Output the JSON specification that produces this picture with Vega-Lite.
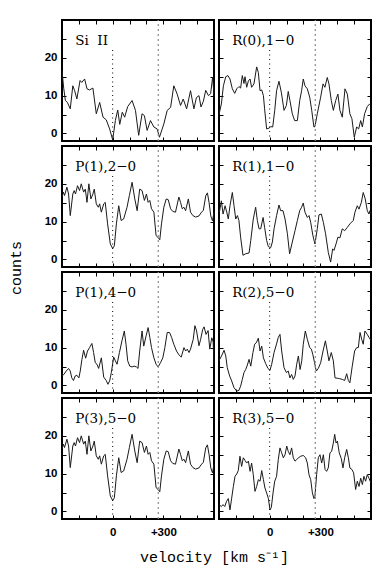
{
  "$schema": "https://vega.github.io/schema/vega-lite/v6.json",
  "padding": {"left": 7, "top": 18, "right": 5, "bottom": 5},
  "background": "white",
  "columns": 2,
  "spacing": 5,
  "bounds": "flush",
  "datasets": {
    "SiII": [{"v":-300,"c":16.6},{"v":-290,"c":12},{"v":-280,"c":8.7},{"v":-268,"c":8.2},{"v":-251,"c":6.5},{"v":-236,"c":12.6},{"v":-225,"c":11.3},{"v":-212,"c":9.1},{"v":-193,"c":14},{"v":-183,"c":13.5},{"v":-166,"c":14.4},{"v":-152,"c":11.8},{"v":-137,"c":11.5},{"v":-117,"c":12},{"v":-97,"c":5.2},{"v":-77,"c":8.2},{"v":-57,"c":4.3},{"v":-38,"c":3.6},{"v":-18,"c":1.2},{"v":0,"c":-1.7},{"v":16,"c":3.4},{"v":30,"c":6.2},{"v":42,"c":2.4},{"v":57,"c":5.6},{"v":71,"c":4.3},{"v":89,"c":7.1},{"v":115,"c":8.7},{"v":135,"c":6.1},{"v":154,"c":-0.5},{"v":174,"c":5.2},{"v":188,"c":4.7},{"v":204,"c":0.8},{"v":224,"c":3.4},{"v":244,"c":1.7},{"v":263,"c":1.2},{"v":277,"c":-1},{"v":303,"c":2.5},{"v":323,"c":6.1},{"v":343,"c":6.9},{"v":362,"c":12.6},{"v":382,"c":10.4},{"v":402,"c":7.4},{"v":418,"c":9.1},{"v":438,"c":6.5},{"v":461,"c":11.3},{"v":481,"c":6.5},{"v":496,"c":9.5},{"v":511,"c":10},{"v":523,"c":7},{"v":537,"c":8.5},{"v":551,"c":11.4},{"v":567,"c":10},{"v":580,"c":10.5},{"v":592,"c":14.9},{"v":600,"c":10}],
    "R0": [{"v":-300,"c":5},{"v":-286,"c":7.8},{"v":-274,"c":12.6},{"v":-260,"c":15},{"v":-247,"c":15.3},{"v":-235,"c":14.4},{"v":-221,"c":11.8},{"v":-207,"c":10.6},{"v":-195,"c":11.8},{"v":-182,"c":12.4},{"v":-172,"c":12},{"v":-162,"c":15.3},{"v":-152,"c":13.2},{"v":-146,"c":15},{"v":-136,"c":12.2},{"v":-126,"c":13.9},{"v":-116,"c":14.4},{"v":-107,"c":12.2},{"v":-93,"c":13.1},{"v":-77,"c":17.6},{"v":-67,"c":16.1},{"v":-57,"c":11.3},{"v":-47,"c":11.5},{"v":-37,"c":10},{"v":-30,"c":6.5},{"v":-18,"c":1.2},{"v":-4,"c":1.4},{"v":6,"c":1.8},{"v":18,"c":1.7},{"v":30,"c":6.1},{"v":41,"c":11.3},{"v":55,"c":13.8},{"v":69,"c":10.9},{"v":85,"c":6.1},{"v":99,"c":7.4},{"v":110,"c":11.1},{"v":120,"c":8.7},{"v":134,"c":5.2},{"v":148,"c":3.4},{"v":164,"c":3.4},{"v":178,"c":8.7},{"v":189,"c":11.3},{"v":199,"c":14.4},{"v":209,"c":12.6},{"v":223,"c":11.8},{"v":237,"c":9.6},{"v":249,"c":6.1},{"v":262,"c":1.7},{"v":268,"c":1.8},{"v":282,"c":5.2},{"v":302,"c":9.6},{"v":316,"c":13.1},{"v":327,"c":12.2},{"v":341,"c":14.8},{"v":351,"c":13.1},{"v":365,"c":8.7},{"v":377,"c":6.1},{"v":391,"c":8.7},{"v":404,"c":10.4},{"v":416,"c":6.1},{"v":430,"c":4.3},{"v":446,"c":11.8},{"v":460,"c":10.4},{"v":475,"c":5.2},{"v":487,"c":3.9},{"v":501,"c":-1},{"v":515,"c":1.7},{"v":527,"c":1.2},{"v":539,"c":3.4},{"v":549,"c":1.7},{"v":562,"c":5.2},{"v":578,"c":7.1},{"v":592,"c":7.8},{"v":600,"c":7.4}],
    "P12": [{"v":-300,"c":16.5},{"v":-292,"c":17.8},{"v":-285,"c":16.9},{"v":-271,"c":19.1},{"v":-261,"c":17.3},{"v":-251,"c":11.6},{"v":-236,"c":17.3},{"v":-228,"c":18.2},{"v":-220,"c":17.3},{"v":-208,"c":19.5},{"v":-196,"c":18.2},{"v":-186,"c":20},{"v":-172,"c":17.8},{"v":-162,"c":18.6},{"v":-152,"c":15.1},{"v":-141,"c":20},{"v":-129,"c":16},{"v":-117,"c":17.3},{"v":-109,"c":18.6},{"v":-97,"c":14.7},{"v":-85,"c":13.8},{"v":-77,"c":14.7},{"v":-67,"c":12.5},{"v":-53,"c":14.7},{"v":-44,"c":15.1},{"v":-30,"c":9.4},{"v":-14,"c":4.1},{"v":0,"c":2.9},{"v":10,"c":3.6},{"v":22,"c":9.4},{"v":36,"c":14.2},{"v":50,"c":10.3},{"v":65,"c":10.7},{"v":85,"c":13.8},{"v":99,"c":16.9},{"v":115,"c":20.4},{"v":131,"c":16},{"v":145,"c":12.9},{"v":160,"c":18.6},{"v":174,"c":18.2},{"v":188,"c":15.6},{"v":200,"c":17.3},{"v":210,"c":15.1},{"v":220,"c":15.6},{"v":230,"c":13.4},{"v":244,"c":12.5},{"v":257,"c":6.3},{"v":269,"c":5.8},{"v":279,"c":5.2},{"v":289,"c":9.4},{"v":303,"c":13.8},{"v":317,"c":16},{"v":329,"c":15.8},{"v":343,"c":13.4},{"v":356,"c":12.7},{"v":372,"c":12.5},{"v":392,"c":16.5},{"v":402,"c":15.1},{"v":412,"c":13.4},{"v":422,"c":13.8},{"v":432,"c":12.9},{"v":448,"c":16},{"v":461,"c":12.5},{"v":475,"c":11.6},{"v":491,"c":11.2},{"v":511,"c":11.5},{"v":523,"c":12.3},{"v":537,"c":13},{"v":551,"c":16.8},{"v":561,"c":17.6},{"v":571,"c":15},{"v":581,"c":11.5},{"v":591,"c":10.2},{"v":600,"c":12.5}],
    "R1": [{"v":-300,"c":12.5},{"v":-296,"c":12.9},{"v":-286,"c":15.5},{"v":-276,"c":12},{"v":-264,"c":14.2},{"v":-254,"c":12.5},{"v":-245,"c":10.7},{"v":-235,"c":14.2},{"v":-221,"c":17.7},{"v":-211,"c":14.2},{"v":-201,"c":10.7},{"v":-191,"c":11.6},{"v":-182,"c":10.3},{"v":-172,"c":5.9},{"v":-158,"c":1.1},{"v":-142,"c":1.5},{"v":-122,"c":1.7},{"v":-112,"c":5},{"v":-97,"c":10.7},{"v":-83,"c":13.8},{"v":-73,"c":10.3},{"v":-63,"c":8.1},{"v":-53,"c":8.1},{"v":-39,"c":11.1},{"v":-30,"c":8.5},{"v":-18,"c":5},{"v":-8,"c":3.4},{"v":6,"c":3.1},{"v":16,"c":4.6},{"v":26,"c":8.1},{"v":41,"c":11.6},{"v":55,"c":14.4},{"v":65,"c":12.9},{"v":79,"c":12.9},{"v":91,"c":10.7},{"v":105,"c":6.8},{"v":118,"c":1.5},{"v":134,"c":4.6},{"v":150,"c":7.6},{"v":164,"c":10.3},{"v":178,"c":12.9},{"v":189,"c":13.8},{"v":199,"c":14.9},{"v":209,"c":12.5},{"v":223,"c":11.1},{"v":233,"c":11.6},{"v":243,"c":9.8},{"v":256,"c":6.3},{"v":268,"c":4.1},{"v":282,"c":8.1},{"v":292,"c":11.8},{"v":306,"c":12},{"v":318,"c":9.8},{"v":331,"c":6.8},{"v":347,"c":1.9},{"v":361,"c":-0.7},{"v":373,"c":2.8},{"v":381,"c":2.4},{"v":393,"c":4.1},{"v":404,"c":5.9},{"v":416,"c":5.7},{"v":430,"c":8.1},{"v":444,"c":7.6},{"v":460,"c":8.5},{"v":475,"c":9.4},{"v":495,"c":10.3},{"v":505,"c":12.5},{"v":519,"c":14.2},{"v":529,"c":13.3},{"v":543,"c":15.1},{"v":554,"c":17.7},{"v":566,"c":16},{"v":578,"c":12.9},{"v":588,"c":12},{"v":594,"c":12.9},{"v":600,"c":11.8}],
    "P14": [{"v":-300,"c":2.5},{"v":-289,"c":2.9},{"v":-275,"c":3.8},{"v":-261,"c":4.5},{"v":-251,"c":3.8},{"v":-242,"c":2},{"v":-232,"c":1.3},{"v":-222,"c":2.5},{"v":-212,"c":2.7},{"v":-200,"c":2},{"v":-192,"c":3.8},{"v":-182,"c":6.9},{"v":-172,"c":9.3},{"v":-160,"c":7.2},{"v":-149,"c":9.1},{"v":-137,"c":10},{"v":-123,"c":11.1},{"v":-113,"c":8.7},{"v":-103,"c":6},{"v":-93,"c":5.6},{"v":-83,"c":4.5},{"v":-67,"c":7.3},{"v":-53,"c":2.2},{"v":-38,"c":1.3},{"v":-28,"c":0.3},{"v":-18,"c":1.2},{"v":-8,"c":3.4},{"v":6,"c":7.5},{"v":16,"c":6.5},{"v":26,"c":5.6},{"v":40,"c":8.7},{"v":55,"c":11.8},{"v":69,"c":14.4},{"v":79,"c":10.9},{"v":89,"c":6.5},{"v":101,"c":5.1},{"v":115,"c":4.9},{"v":127,"c":5.1},{"v":141,"c":4.9},{"v":150,"c":4.5},{"v":160,"c":9.1},{"v":174,"c":14.4},{"v":184,"c":10.4},{"v":198,"c":13.1},{"v":210,"c":15.3},{"v":220,"c":12.7},{"v":230,"c":10},{"v":244,"c":7.3},{"v":257,"c":5.6},{"v":269,"c":4.9},{"v":283,"c":6},{"v":297,"c":7.3},{"v":309,"c":10},{"v":323,"c":14},{"v":337,"c":14},{"v":349,"c":12.7},{"v":362,"c":10.9},{"v":378,"c":9.1},{"v":392,"c":8.1},{"v":406,"c":7.5},{"v":422,"c":10},{"v":432,"c":9.1},{"v":442,"c":9.6},{"v":452,"c":8.7},{"v":461,"c":9.6},{"v":477,"c":12.2},{"v":487,"c":15.8},{"v":497,"c":14.4},{"v":511,"c":10.5},{"v":521,"c":12.2},{"v":533,"c":14.8},{"v":541,"c":15.5},{"v":553,"c":13.5},{"v":565,"c":14.5},{"v":575,"c":9.6},{"v":587,"c":12.6},{"v":595,"c":11.5},{"v":600,"c":5.6}],
    "R2": [{"v":-300,"c":6.5},{"v":-296,"c":6.9},{"v":-285,"c":7.8},{"v":-270,"c":9.3},{"v":-260,"c":7.8},{"v":-251,"c":4.7},{"v":-237,"c":2.5},{"v":-225,"c":1.2},{"v":-211,"c":-0.6},{"v":-195,"c":-1.5},{"v":-182,"c":-1.3},{"v":-172,"c":-0.2},{"v":-162,"c":1.6},{"v":-152,"c":3.4},{"v":-142,"c":4.2},{"v":-132,"c":5.4},{"v":-122,"c":6.9},{"v":-112,"c":5.1},{"v":-99,"c":8.7},{"v":-89,"c":10.9},{"v":-79,"c":11.3},{"v":-67,"c":12.5},{"v":-57,"c":9.1},{"v":-47,"c":10.4},{"v":-37,"c":7.3},{"v":-24,"c":5.8},{"v":-10,"c":4.5},{"v":2,"c":4},{"v":12,"c":5.6},{"v":26,"c":8.7},{"v":39,"c":10.7},{"v":51,"c":12.7},{"v":61,"c":13.5},{"v":71,"c":9.1},{"v":85,"c":4.7},{"v":99,"c":3.4},{"v":110,"c":3.8},{"v":120,"c":2},{"v":130,"c":2.9},{"v":140,"c":1.6},{"v":150,"c":2.5},{"v":160,"c":5.6},{"v":170,"c":7.8},{"v":180,"c":4.2},{"v":190,"c":6.5},{"v":199,"c":10.9},{"v":211,"c":14.4},{"v":223,"c":12.2},{"v":237,"c":10},{"v":247,"c":9.6},{"v":256,"c":8.1},{"v":266,"c":6},{"v":276,"c":3.8},{"v":288,"c":4.5},{"v":302,"c":6},{"v":316,"c":9.1},{"v":330,"c":11.8},{"v":341,"c":9.1},{"v":351,"c":6.5},{"v":365,"c":8.7},{"v":377,"c":6.5},{"v":387,"c":2},{"v":401,"c":1.9},{"v":414,"c":1.8},{"v":430,"c":1.6},{"v":444,"c":1.3},{"v":456,"c":3.1},{"v":466,"c":1.3},{"v":475,"c":0.7},{"v":489,"c":5.1},{"v":503,"c":9.1},{"v":515,"c":10},{"v":525,"c":10},{"v":535,"c":14},{"v":545,"c":12.2},{"v":554,"c":10.9},{"v":564,"c":14.4},{"v":578,"c":13.5},{"v":588,"c":12.7},{"v":600,"c":11.9}],
    "R3": [{"v":-300,"c":1.8},{"v":-286,"c":1.3},{"v":-276,"c":1.8},{"v":-266,"c":1.3},{"v":-255,"c":2.7},{"v":-245,"c":3.4},{"v":-235,"c":0.4},{"v":-225,"c":3.5},{"v":-215,"c":6.6},{"v":-205,"c":9.3},{"v":-195,"c":9.9},{"v":-186,"c":10.8},{"v":-176,"c":14.6},{"v":-166,"c":11.9},{"v":-156,"c":14.2},{"v":-146,"c":13.5},{"v":-136,"c":12.8},{"v":-126,"c":13.3},{"v":-116,"c":10.6},{"v":-107,"c":12.8},{"v":-97,"c":9.7},{"v":-87,"c":5.3},{"v":-77,"c":6.6},{"v":-67,"c":8.4},{"v":-57,"c":8},{"v":-47,"c":10.8},{"v":-37,"c":8.4},{"v":-28,"c":6.2},{"v":-18,"c":4.9},{"v":-8,"c":3.5},{"v":2,"c":0.4},{"v":10,"c":1.1},{"v":20,"c":4.9},{"v":30,"c":8},{"v":41,"c":9.3},{"v":51,"c":13.7},{"v":61,"c":16.8},{"v":71,"c":15.5},{"v":81,"c":14.2},{"v":91,"c":15},{"v":101,"c":17.3},{"v":110,"c":15.9},{"v":120,"c":15},{"v":130,"c":16.8},{"v":140,"c":14.2},{"v":150,"c":13.3},{"v":160,"c":13.7},{"v":170,"c":14.2},{"v":184,"c":14.6},{"v":199,"c":14.8},{"v":213,"c":14.2},{"v":223,"c":12.8},{"v":233,"c":9.7},{"v":243,"c":8.4},{"v":253,"c":4.9},{"v":262,"c":3.4},{"v":268,"c":4},{"v":278,"c":9.7},{"v":288,"c":14.2},{"v":298,"c":15},{"v":308,"c":12.8},{"v":318,"c":15},{"v":328,"c":11.1},{"v":337,"c":10.6},{"v":347,"c":11.5},{"v":357,"c":15.5},{"v":367,"c":15.9},{"v":377,"c":18.1},{"v":385,"c":20.4},{"v":393,"c":18.1},{"v":401,"c":18.6},{"v":412,"c":15.5},{"v":424,"c":14},{"v":434,"c":11.5},{"v":444,"c":14.2},{"v":456,"c":16.4},{"v":466,"c":14.2},{"v":475,"c":11.5},{"v":487,"c":11.1},{"v":497,"c":10.2},{"v":509,"c":5.8},{"v":519,"c":8},{"v":529,"c":6.6},{"v":539,"c":8.8},{"v":549,"c":7.1},{"v":558,"c":9.3},{"v":568,"c":8},{"v":578,"c":9.7},{"v":588,"c":8.8},{"v":600,"c":7.5}]
  },
  "concat": [
    {
      "width": 152, "height": 121,
      "layer": [
        {"data": {"name": "SiII"}, "mark": {"type": "line", "color": "#1a1a1a", "strokeWidth": 1},
         "encoding": {
           "x": {"field": "v", "type": "quantitative", "scale": {"domain": [-300, 600], "nice": false}, "axis": {"orient": "bottom", "values": [-200,-100,0,100,200,300,400,500], "labels": false, "title": null}},
           "y": {"field": "c", "type": "quantitative", "scale": {"domain": [-2, 30], "nice": false, "zero": false}, "axis": {"orient": "left", "values": [0,5,10,15,20,25], "labelExpr": "datum.value % 10 == 0 ? datum.label : ''", "labelPadding": 9, "title": null}}}},
        {"data": {"values": [{}]}, "mark": {"type": "rule", "color": "#8a8a8a", "strokeDash": [2, 3], "strokeWidth": 1.2},
         "encoding": {
           "x": {"datum": 270, "type": "quantitative", "scale": {"domain": [-300, 600], "nice": false}, "axis": {"orient": "top", "values": [-200,-100,0,100,200,300,400,500], "labels": false, "title": null}},
           "y": {"datum": -2, "type": "quantitative", "scale": {"domain": [-2, 30], "nice": false, "zero": false}, "axis": {"orient": "right", "values": [0,5,10,15,20,25], "labels": false, "title": null}},
           "y2": {"datum": 30}}},
        {"data": {"values": [{}]}, "mark": {"type": "rule", "color": "#000", "strokeDash": [1, 3.5], "strokeWidth": 1},
         "encoding": {"x": {"datum": 0, "type": "quantitative", "axis": null}, "y": {"datum": -2, "type": "quantitative", "axis": null}, "y2": {"datum": 23}}},
        {"data": {"values": [{}]}, "mark": {"type": "text", "text": "Si\u00a0\u00a0II", "align": "left", "baseline": "alphabetic", "font": "DejaVu Serif", "fontSize": 13.5, "color": "#000"},
         "encoding": {"x": {"datum": -222, "type": "quantitative", "axis": null}, "y": {"datum": 23.5, "type": "quantitative", "axis": null}}}
      ],
      "resolve": {"axis": {"x": "independent", "y": "independent"}}
    },
    {
      "width": 152, "height": 121,
      "layer": [
        {"data": {"name": "R0"}, "mark": {"type": "line", "color": "#1a1a1a", "strokeWidth": 1},
         "encoding": {
           "x": {"field": "v", "type": "quantitative", "scale": {"domain": [-300, 600], "nice": false}, "axis": {"orient": "bottom", "values": [-200,-100,0,100,200,300,400,500], "labels": false, "title": null}},
           "y": {"field": "c", "type": "quantitative", "scale": {"domain": [-2, 30], "nice": false, "zero": false}, "axis": {"orient": "left", "values": [0,5,10,15,20,25], "labels": false, "title": null}}}},
        {"data": {"values": [{}]}, "mark": {"type": "rule", "color": "#8a8a8a", "strokeDash": [2, 3], "strokeWidth": 1.2},
         "encoding": {
           "x": {"datum": 270, "type": "quantitative", "scale": {"domain": [-300, 600], "nice": false}, "axis": {"orient": "top", "values": [-200,-100,0,100,200,300,400,500], "labels": false, "title": null}},
           "y": {"datum": -2, "type": "quantitative", "scale": {"domain": [-2, 30], "nice": false, "zero": false}, "axis": {"orient": "right", "values": [0,5,10,15,20,25], "labels": false, "title": null}},
           "y2": {"datum": 30}}},
        {"data": {"values": [{}]}, "mark": {"type": "rule", "color": "#000", "strokeDash": [1, 3.5], "strokeWidth": 1},
         "encoding": {"x": {"datum": 0, "type": "quantitative", "axis": null}, "y": {"datum": -2, "type": "quantitative", "axis": null}, "y2": {"datum": 23}}},
        {"data": {"values": [{}]}, "mark": {"type": "text", "text": "R(0),1−0", "align": "left", "baseline": "alphabetic", "font": "DejaVu Serif", "fontSize": 13.5, "color": "#000"},
         "encoding": {"x": {"datum": -222, "type": "quantitative", "axis": null}, "y": {"datum": 23.5, "type": "quantitative", "axis": null}}}
      ],
      "resolve": {"axis": {"x": "independent", "y": "independent"}}
    },
    {
      "width": 152, "height": 121,
      "layer": [
        {"data": {"name": "P12"}, "mark": {"type": "line", "color": "#1a1a1a", "strokeWidth": 1},
         "encoding": {
           "x": {"field": "v", "type": "quantitative", "scale": {"domain": [-300, 600], "nice": false}, "axis": {"orient": "bottom", "values": [-200,-100,0,100,200,300,400,500], "labels": false, "title": null}},
           "y": {"field": "c", "type": "quantitative", "scale": {"domain": [-2, 30], "nice": false, "zero": false}, "axis": {"orient": "left", "values": [0,5,10,15,20,25], "labelExpr": "datum.value % 10 == 0 ? datum.label : ''", "labelPadding": 9, "title": "counts", "titleX": -47, "titleY": 121.5, "titleAngle": -90, "titleAlign": "center", "titleBaseline": "middle"}}}},
        {"data": {"values": [{}]}, "mark": {"type": "rule", "color": "#8a8a8a", "strokeDash": [2, 3], "strokeWidth": 1.2},
         "encoding": {
           "x": {"datum": 270, "type": "quantitative", "scale": {"domain": [-300, 600], "nice": false}, "axis": {"orient": "top", "values": [-200,-100,0,100,200,300,400,500], "labels": false, "title": null}},
           "y": {"datum": -2, "type": "quantitative", "scale": {"domain": [-2, 30], "nice": false, "zero": false}, "axis": {"orient": "right", "values": [0,5,10,15,20,25], "labels": false, "title": null}},
           "y2": {"datum": 30}}},
        {"data": {"values": [{}]}, "mark": {"type": "rule", "color": "#000", "strokeDash": [1, 3.5], "strokeWidth": 1},
         "encoding": {"x": {"datum": 0, "type": "quantitative", "axis": null}, "y": {"datum": -2, "type": "quantitative", "axis": null}, "y2": {"datum": 23}}},
        {"data": {"values": [{}]}, "mark": {"type": "text", "text": "P(1),2−0", "align": "left", "baseline": "alphabetic", "font": "DejaVu Serif", "fontSize": 13.5, "color": "#000"},
         "encoding": {"x": {"datum": -222, "type": "quantitative", "axis": null}, "y": {"datum": 23.5, "type": "quantitative", "axis": null}}}
      ],
      "resolve": {"axis": {"x": "independent", "y": "independent"}}
    },
    {
      "width": 152, "height": 121,
      "layer": [
        {"data": {"name": "R1"}, "mark": {"type": "line", "color": "#1a1a1a", "strokeWidth": 1},
         "encoding": {
           "x": {"field": "v", "type": "quantitative", "scale": {"domain": [-300, 600], "nice": false}, "axis": {"orient": "bottom", "values": [-200,-100,0,100,200,300,400,500], "labels": false, "title": null}},
           "y": {"field": "c", "type": "quantitative", "scale": {"domain": [-2, 30], "nice": false, "zero": false}, "axis": {"orient": "left", "values": [0,5,10,15,20,25], "labels": false, "title": null}}}},
        {"data": {"values": [{}]}, "mark": {"type": "rule", "color": "#8a8a8a", "strokeDash": [2, 3], "strokeWidth": 1.2},
         "encoding": {
           "x": {"datum": 270, "type": "quantitative", "scale": {"domain": [-300, 600], "nice": false}, "axis": {"orient": "top", "values": [-200,-100,0,100,200,300,400,500], "labels": false, "title": null}},
           "y": {"datum": -2, "type": "quantitative", "scale": {"domain": [-2, 30], "nice": false, "zero": false}, "axis": {"orient": "right", "values": [0,5,10,15,20,25], "labels": false, "title": null}},
           "y2": {"datum": 30}}},
        {"data": {"values": [{}]}, "mark": {"type": "rule", "color": "#000", "strokeDash": [1, 3.5], "strokeWidth": 1},
         "encoding": {"x": {"datum": 0, "type": "quantitative", "axis": null}, "y": {"datum": -2, "type": "quantitative", "axis": null}, "y2": {"datum": 23}}},
        {"data": {"values": [{}]}, "mark": {"type": "text", "text": "R(1),1−0", "align": "left", "baseline": "alphabetic", "font": "DejaVu Serif", "fontSize": 13.5, "color": "#000"},
         "encoding": {"x": {"datum": -222, "type": "quantitative", "axis": null}, "y": {"datum": 23.5, "type": "quantitative", "axis": null}}}
      ],
      "resolve": {"axis": {"x": "independent", "y": "independent"}}
    },
    {
      "width": 152, "height": 121,
      "layer": [
        {"data": {"name": "P14"}, "mark": {"type": "line", "color": "#1a1a1a", "strokeWidth": 1},
         "encoding": {
           "x": {"field": "v", "type": "quantitative", "scale": {"domain": [-300, 600], "nice": false}, "axis": {"orient": "bottom", "values": [-200,-100,0,100,200,300,400,500], "labels": false, "title": null}},
           "y": {"field": "c", "type": "quantitative", "scale": {"domain": [-2, 30], "nice": false, "zero": false}, "axis": {"orient": "left", "values": [0,5,10,15,20,25], "labelExpr": "datum.value % 10 == 0 ? datum.label : ''", "labelPadding": 9, "title": null}}}},
        {"data": {"values": [{}]}, "mark": {"type": "rule", "color": "#8a8a8a", "strokeDash": [2, 3], "strokeWidth": 1.2},
         "encoding": {
           "x": {"datum": 270, "type": "quantitative", "scale": {"domain": [-300, 600], "nice": false}, "axis": {"orient": "top", "values": [-200,-100,0,100,200,300,400,500], "labels": false, "title": null}},
           "y": {"datum": -2, "type": "quantitative", "scale": {"domain": [-2, 30], "nice": false, "zero": false}, "axis": {"orient": "right", "values": [0,5,10,15,20,25], "labels": false, "title": null}},
           "y2": {"datum": 30}}},
        {"data": {"values": [{}]}, "mark": {"type": "rule", "color": "#000", "strokeDash": [1, 3.5], "strokeWidth": 1},
         "encoding": {"x": {"datum": 0, "type": "quantitative", "axis": null}, "y": {"datum": -2, "type": "quantitative", "axis": null}, "y2": {"datum": 23}}},
        {"data": {"values": [{}]}, "mark": {"type": "text", "text": "P(1),4−0", "align": "left", "baseline": "alphabetic", "font": "DejaVu Serif", "fontSize": 13.5, "color": "#000"},
         "encoding": {"x": {"datum": -222, "type": "quantitative", "axis": null}, "y": {"datum": 23.5, "type": "quantitative", "axis": null}}}
      ],
      "resolve": {"axis": {"x": "independent", "y": "independent"}}
    },
    {
      "width": 152, "height": 121,
      "layer": [
        {"data": {"name": "R2"}, "mark": {"type": "line", "color": "#1a1a1a", "strokeWidth": 1},
         "encoding": {
           "x": {"field": "v", "type": "quantitative", "scale": {"domain": [-300, 600], "nice": false}, "axis": {"orient": "bottom", "values": [-200,-100,0,100,200,300,400,500], "labels": false, "title": null}},
           "y": {"field": "c", "type": "quantitative", "scale": {"domain": [-2, 30], "nice": false, "zero": false}, "axis": {"orient": "left", "values": [0,5,10,15,20,25], "labels": false, "title": null}}}},
        {"data": {"values": [{}]}, "mark": {"type": "rule", "color": "#8a8a8a", "strokeDash": [2, 3], "strokeWidth": 1.2},
         "encoding": {
           "x": {"datum": 270, "type": "quantitative", "scale": {"domain": [-300, 600], "nice": false}, "axis": {"orient": "top", "values": [-200,-100,0,100,200,300,400,500], "labels": false, "title": null}},
           "y": {"datum": -2, "type": "quantitative", "scale": {"domain": [-2, 30], "nice": false, "zero": false}, "axis": {"orient": "right", "values": [0,5,10,15,20,25], "labels": false, "title": null}},
           "y2": {"datum": 30}}},
        {"data": {"values": [{}]}, "mark": {"type": "rule", "color": "#000", "strokeDash": [1, 3.5], "strokeWidth": 1},
         "encoding": {"x": {"datum": 0, "type": "quantitative", "axis": null}, "y": {"datum": -2, "type": "quantitative", "axis": null}, "y2": {"datum": 23}}},
        {"data": {"values": [{}]}, "mark": {"type": "text", "text": "R(2),5−0", "align": "left", "baseline": "alphabetic", "font": "DejaVu Serif", "fontSize": 13.5, "color": "#000"},
         "encoding": {"x": {"datum": -222, "type": "quantitative", "axis": null}, "y": {"datum": 23.5, "type": "quantitative", "axis": null}}}
      ],
      "resolve": {"axis": {"x": "independent", "y": "independent"}}
    },
    {
      "width": 152, "height": 121,
      "layer": [
        {"data": {"name": "P12"}, "mark": {"type": "line", "color": "#1a1a1a", "strokeWidth": 1},
         "encoding": {
           "x": {"field": "v", "type": "quantitative", "scale": {"domain": [-300, 600], "nice": false}, "axis": {"orient": "bottom", "values": [-200,-100,0,100,200,300,400,500], "labelExpr": "datum.value == 0 ? '0' : (datum.value == 300 ? '+300' : '')", "labelPadding": 11, "title": "velocity [km s⁻¹]", "titleX": 152, "titleY": 37.5, "titleAlign": "center", "titleBaseline": "middle"}},
           "y": {"field": "c", "type": "quantitative", "scale": {"domain": [-2, 30], "nice": false, "zero": false}, "axis": {"orient": "left", "values": [0,5,10,15,20,25], "labelExpr": "datum.value % 10 == 0 ? datum.label : ''", "labelPadding": 9, "title": null}}}},
        {"data": {"values": [{}]}, "mark": {"type": "rule", "color": "#8a8a8a", "strokeDash": [2, 3], "strokeWidth": 1.2},
         "encoding": {
           "x": {"datum": 270, "type": "quantitative", "scale": {"domain": [-300, 600], "nice": false}, "axis": {"orient": "top", "values": [-200,-100,0,100,200,300,400,500], "labels": false, "title": null}},
           "y": {"datum": -2, "type": "quantitative", "scale": {"domain": [-2, 30], "nice": false, "zero": false}, "axis": {"orient": "right", "values": [0,5,10,15,20,25], "labels": false, "title": null}},
           "y2": {"datum": 30}}},
        {"data": {"values": [{}]}, "mark": {"type": "rule", "color": "#000", "strokeDash": [1, 3.5], "strokeWidth": 1},
         "encoding": {"x": {"datum": 0, "type": "quantitative", "axis": null}, "y": {"datum": -2, "type": "quantitative", "axis": null}, "y2": {"datum": 23}}},
        {"data": {"values": [{}]}, "mark": {"type": "text", "text": "P(3),5−0", "align": "left", "baseline": "alphabetic", "font": "DejaVu Serif", "fontSize": 13.5, "color": "#000"},
         "encoding": {"x": {"datum": -222, "type": "quantitative", "axis": null}, "y": {"datum": 23.5, "type": "quantitative", "axis": null}}}
      ],
      "resolve": {"axis": {"x": "independent", "y": "independent"}}
    },
    {
      "width": 152, "height": 121,
      "layer": [
        {"data": {"name": "R3"}, "mark": {"type": "line", "color": "#1a1a1a", "strokeWidth": 1},
         "encoding": {
           "x": {"field": "v", "type": "quantitative", "scale": {"domain": [-300, 600], "nice": false}, "axis": {"orient": "bottom", "values": [-200,-100,0,100,200,300,400,500], "labelExpr": "datum.value == 0 ? '0' : (datum.value == 300 ? '+300' : '')", "labelPadding": 11, "title": null}},
           "y": {"field": "c", "type": "quantitative", "scale": {"domain": [-2, 30], "nice": false, "zero": false}, "axis": {"orient": "left", "values": [0,5,10,15,20,25], "labels": false, "title": null}}}},
        {"data": {"values": [{}]}, "mark": {"type": "rule", "color": "#8a8a8a", "strokeDash": [2, 3], "strokeWidth": 1.2},
         "encoding": {
           "x": {"datum": 270, "type": "quantitative", "scale": {"domain": [-300, 600], "nice": false}, "axis": {"orient": "top", "values": [-200,-100,0,100,200,300,400,500], "labels": false, "title": null}},
           "y": {"datum": -2, "type": "quantitative", "scale": {"domain": [-2, 30], "nice": false, "zero": false}, "axis": {"orient": "right", "values": [0,5,10,15,20,25], "labels": false, "title": null}},
           "y2": {"datum": 30}}},
        {"data": {"values": [{}]}, "mark": {"type": "rule", "color": "#000", "strokeDash": [1, 3.5], "strokeWidth": 1},
         "encoding": {"x": {"datum": 0, "type": "quantitative", "axis": null}, "y": {"datum": -2, "type": "quantitative", "axis": null}, "y2": {"datum": 23}}},
        {"data": {"values": [{}]}, "mark": {"type": "text", "text": "R(3),5−0", "align": "left", "baseline": "alphabetic", "font": "DejaVu Serif", "fontSize": 13.5, "color": "#000"},
         "encoding": {"x": {"datum": -222, "type": "quantitative", "axis": null}, "y": {"datum": 23.5, "type": "quantitative", "axis": null}}}
      ],
      "resolve": {"axis": {"x": "independent", "y": "independent"}}
    }
  ],
  "config": {
    "view": {"stroke": "#000", "strokeWidth": 2},
    "axis": {"domain": false, "grid": false, "ticks": true, "tickColor": "#000", "tickWidth": 1, "tickSize": -4, "labelFont": "Liberation Sans", "labelFontWeight": "bold", "labelFontSize": 11.5, "labelColor": "#000", "labelOverlap": false, "labelFlush": false, "titleFont": "Liberation Mono", "titleFontSize": 15, "titleFontWeight": "normal", "titleColor": "#000"}
  }
}
